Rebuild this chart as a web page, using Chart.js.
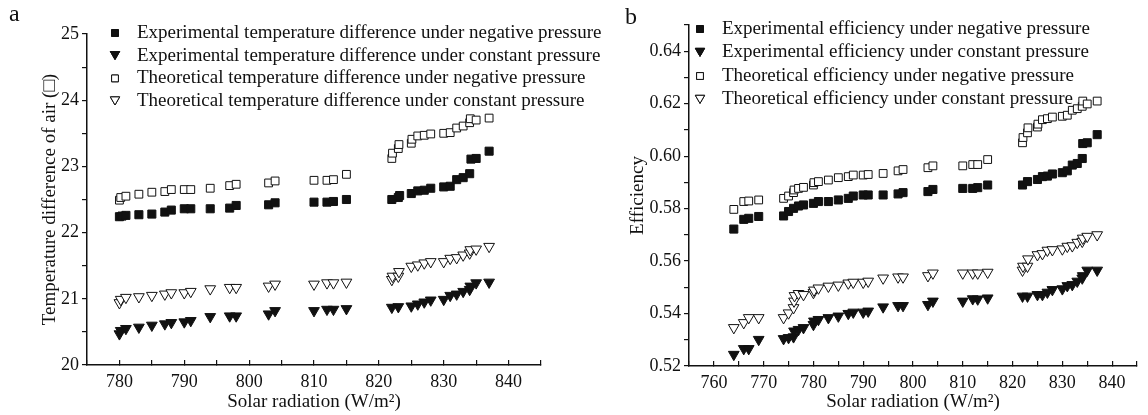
<!DOCTYPE html>
<html>
<head>
<meta charset="utf-8">
<script src="https://cdn.jsdelivr.net/npm/chart.js@4.4.1/dist/chart.umd.min.js"></script>
<style>
  body { margin: 0; background: #fff; }
  .panel { position: absolute; top: 0; height: 415px; }
  #pa { left: 0; width: 640px; }
  #pb { left: 574px; width: 574px; }
</style>
</head>
<body>
<div class="panel" id="pa"><canvas id="chartA" width="640" height="415"></canvas></div>
<div class="panel" id="pb"><canvas id="chartB" width="574" height="415"></canvas></div>
<script>
// ---- panel a: temperature difference of air ----
const expNegAX = [780,780.4,781,783,785,787,788,790,791,794,797,798,803,804,810,812,813,815,822,823,823.2,825,826,827,828,830,831,832,833,834,834.2,835,837];
const expNegAY = [22.24,22.25,22.26,22.27,22.28,22.31,22.34,22.36,22.36,22.36,22.37,22.41,22.42,22.45,22.46,22.46,22.47,22.50,22.50,22.53,22.56,22.59,22.63,22.64,22.67,22.69,22.70,22.80,22.83,22.89,23.11,23.12,23.23];
const expConAX = [780,780.2,781,783,785,787,788,790,791,794,797,798,803,804,810,812,813,815,822,823,825,826,827,828,830,831,832,833,834,834.1,835,837];
const expConAY = [20.47,20.52,20.55,20.57,20.60,20.62,20.64,20.65,20.67,20.73,20.74,20.74,20.77,20.82,20.82,20.84,20.84,20.85,20.87,20.88,20.89,20.92,20.95,20.98,20.99,21.05,21.07,21.11,21.14,21.19,21.24,21.25];
const theoNegAX = [780,780.2,781,783,785,787,788,790,791,794,797,798,803,804,810,812,813,815,822,822.1,823,823.1,825,825.1,826,827,828,830,831,832,833,834,834.1,835,837];
const theoNegAY = [22.49,22.53,22.55,22.58,22.61,22.62,22.65,22.65,22.65,22.67,22.71,22.73,22.75,22.78,22.79,22.79,22.80,22.88,23.12,23.20,23.27,23.33,23.35,23.41,23.46,23.47,23.49,23.50,23.51,23.58,23.61,23.66,23.72,23.70,23.73];
const theoConAX = [780,780.2,781,783,785,787,788,790,791,794,797,798,803,804,810,812,813,815,822,822.1,823,823.1,825,826,827,828,830,831,832,833,834,834.1,835,837];
const theoConAY = [20.94,20.99,21.02,21.03,21.05,21.07,21.09,21.09,21.11,21.15,21.17,21.17,21.19,21.22,21.22,21.24,21.24,21.25,21.29,21.34,21.34,21.41,21.49,21.51,21.54,21.56,21.56,21.61,21.62,21.66,21.69,21.74,21.75,21.79];
const labelsA = [
  "Experimental temperature difference under negative pressure",
  "Experimental temperature difference under constant pressure",
  "Theoretical temperature difference under negative pressure",
  "Theoretical temperature difference under constant pressure"
];

// ---- panel b: efficiency ----
const expNegBX = [764,766,767,769,774,775,776,777,778,780,781,783,785,787,788,790,791,794,797,798,803,804,810,812,813,815,822,823,825,826,827,828,830,831,832,833,834,834.1,835,837];
const expNegBY = [0.5722,0.5759,0.5763,0.5770,0.5772,0.5789,0.5801,0.5810,0.5814,0.5820,0.5827,0.5827,0.5833,0.5839,0.5848,0.5852,0.5852,0.5852,0.5856,0.5861,0.5865,0.5873,0.5877,0.5877,0.5880,0.5890,0.5890,0.5903,0.5911,0.5922,0.5924,0.5932,0.5937,0.5944,0.5966,0.5972,0.5991,0.6048,0.6051,0.6082];
const expConBX = [764,766,767,769,774,775,776,776.1,777,778,780,780.1,781,783,785,787,788,790,791,794,797,798,803,804,810,812,813,815,822,823,825,826,827,828,830,831,832,833,834,834.1,835,837];
const expConBY = [0.5244,0.5266,0.5266,0.5301,0.5304,0.5308,0.5311,0.5333,0.5339,0.5346,0.5358,0.5371,0.5377,0.5384,0.5390,0.5400,0.5405,0.5405,0.5409,0.5425,0.5430,0.5430,0.5434,0.5447,0.5447,0.5456,0.5455,0.5459,0.5466,0.5466,0.5472,0.5472,0.5481,0.5491,0.5494,0.5506,0.5510,0.5523,0.5535,0.5544,0.5565,0.5565];
const theoNegBX = [764,766,767,769,774,775,776,776.1,777,778,780,780.1,781,783,785,787,788,790,791,794,797,798,803,804,810,812,813,815,822,822.1,823,823.1,825,825.1,826,827,828,830,831,832,833,834,834.1,835,837];
const theoNegBY = [0.5797,0.5827,0.5829,0.5833,0.5839,0.5848,0.5861,0.5871,0.5877,0.5881,0.5890,0.5899,0.5903,0.5909,0.5918,0.5922,0.5928,0.5928,0.5930,0.5934,0.5944,0.5949,0.5956,0.5963,0.5963,0.5968,0.5968,0.5987,0.6051,0.6071,0.6089,0.6108,0.6111,0.6122,0.6139,0.6143,0.6149,0.6152,0.6156,0.6175,0.6181,0.6190,0.6210,0.6199,0.6210];
const theoConBX = [764,766,767,769,774,775,776,776.1,776.2,777,778,780,780.1,781,783,785,787,788,790,791,794,797,798,803,804,810,812,813,815,822,822.1,823,823.1,825,826,827,828,830,831,832,833,834,834.1,835,837];
const theoConBY = [0.5346,0.5365,0.5384,0.5384,0.5384,0.5402,0.5422,0.5447,0.5468,0.5476,0.5472,0.5480,0.5489,0.5497,0.5504,0.5508,0.5516,0.5519,0.5519,0.5523,0.5535,0.5539,0.5539,0.5544,0.5554,0.5554,0.5554,0.5554,0.5557,0.5565,0.5580,0.5580,0.5608,0.5624,0.5628,0.5641,0.5643,0.5646,0.5656,0.5658,0.5671,0.5675,0.5687,0.5694,0.5700];
const labelsB = [
  "Experimental efficiency under negative pressure",
  "Experimental efficiency under constant pressure",
  "Theoretical efficiency under negative pressure",
  "Theoretical efficiency under constant pressure"
];

const FONT = "'Liberation Serif', 'Times New Roman', serif";
const INK = "#111";

// marker styles: filled square, filled down-triangle, open square, open down-triangle
const markers = [
  { pointStyle: "rect", pointRadius: 5.7, pointRotation: 0, pointBackgroundColor: INK, pointBorderColor: INK, pointBorderWidth: 1 },
  { pointStyle: "triangle", pointRadius: 6.2, pointRotation: 180, pointBackgroundColor: INK, pointBorderColor: INK, pointBorderWidth: 1 },
  { pointStyle: "rect", pointRadius: 5.5, pointRotation: 0, pointBackgroundColor: "#fff", pointBorderColor: INK, pointBorderWidth: 1 },
  { pointStyle: "triangle", pointRadius: 6.2, pointRotation: 180, pointBackgroundColor: "#fff", pointBorderColor: INK, pointBorderWidth: 1 }
];

function pts(xs, ys) {
  return xs.map((x, i) => ({ x: x, y: ys[i] }));
}

function makeSets(pairs, labels) {
  return pairs.map((p, i) => Object.assign({
    label: labels[i],
    data: pts(p[0], p[1]),
    showLine: false
  }, markers[i]));
}

// legend drawn inside the plot, plus the panel letter
const innerLegend = {
  id: "innerLegend",
  afterDraw(chart, args, opts) {
    const ctx = chart.ctx;
    ctx.save();
    ctx.textBaseline = "middle";
    ctx.textAlign = "left";
    chart.data.datasets.forEach((ds, i) => {
      const y = opts.y0 + i * opts.dy;
      const m = markers[i];
      Chart.helpers.drawPoint(ctx, {
        pointStyle: m.pointStyle,
        radius: m.pointStyle === "rect" ? 4.8 : 5.4,
        rotation: m.pointRotation,
        borderWidth: 1
      }, opts.mx, m.pointStyle === "triangle" ? y - 1.5 : y);
      ctx.fillStyle = m.pointBackgroundColor;
      ctx.strokeStyle = INK;
      ctx.lineWidth = 1;
      ctx.fill();
      ctx.stroke();
      ctx.fillStyle = INK;
      ctx.font = "19px " + FONT;
      ctx.fillText(ds.label, opts.tx, y);
    });
    ctx.textBaseline = "alphabetic";
    ctx.font = "24px " + FONT;
    ctx.fillText(opts.letter, opts.lx, opts.ly);
    ctx.restore();
  }
};

function axisCommon() {
  return {
    type: "linear",
    border: { display: true, color: INK, width: 1.5 },
    grid: { drawOnChartArea: false, color: INK, lineWidth: 1.2, tickLength: 5 },
    ticks: { color: INK, font: { family: FONT, size: 18 }, autoSkip: false, maxRotation: 0 }
  };
}

function buildChart(id, sets, cfg) {
  const x = axisCommon();
  x.min = cfg.xMin; x.max = cfg.xMax;
  x.grid.tickLength = -5;
  x.ticks.stepSize = 5;
  x.ticks.padding = 11;
  x.ticks.callback = v => (v % 10 === 0 ? String(v) : "");
  x.title = { display: true, text: "Solar radiation (W/m²)", color: INK, font: { family: FONT, size: 19 }, padding: { top: 0, bottom: 2 } };
  x.afterFit = s => { s.height = cfg.xH; };

  const y = axisCommon();
  y.min = cfg.yMin; y.max = cfg.yMax;
  y.ticks.stepSize = cfg.yStep;
  y.ticks.padding = 3;
  y.ticks.callback = cfg.yFmt;
  y.title = { display: true, text: cfg.yTitle, color: INK, font: { family: FONT, size: 19 }, padding: { top: cfg.yTitlePad, bottom: 0 } };
  y.afterFit = s => { s.width = cfg.yW; };

  return new Chart(document.getElementById(id), {
    type: "scatter",
    data: { datasets: sets },
    options: {
      responsive: false,
      animation: false,
      layout: { padding: { top: cfg.top, right: cfg.right, bottom: 0, left: 0 } },
      plugins: {
        legend: { display: false },
        tooltip: { enabled: false },
        innerLegend: cfg.legend
      },
      scales: { x: x, y: y }
    },
    plugins: [innerLegend]
  });
}

buildChart("chartA", makeSets([
  [expNegAX, expNegAY], [expConAX, expConAY], [theoNegAX, theoNegAY], [theoConAX, theoConAY]
], labelsA), {
  xMin: 775, xMax: 845, yMin: 20, yMax: 25, yStep: 0.5,
  yFmt: v => (Math.abs(v - Math.round(v)) < 1e-6 ? String(Math.round(v)) : ""),
  yTitle: "Temperature difference of air (□)", yTitlePad: 39,
  top: 34, right: 99, xH: 50, yW: 87,
  legend: { y0: 33, dy: 22.7, mx: 115, tx: 137, letter: "a", lx: 9, ly: 21 }
});

buildChart("chartB", makeSets([
  [expNegBX, expNegBY], [expConBX, expConBY], [theoNegBX, theoNegBY], [theoConBX, theoConBY]
], labelsB), {
  xMin: 755, xMax: 845, yMin: 0.52, yMax: 0.65, yStep: 0.01,
  yFmt: v => (Math.round(v * 100) % 2 === 0 ? v.toFixed(2) : ""),
  yTitle: "Efficiency", yTitlePad: 53,
  top: 25, right: 1, xH: 49, yW: 115,
  legend: { y0: 29, dy: 23.5, mx: 126, tx: 148, letter: "b", lx: 51, ly: 24 }
});
</script>
</body>
</html>
